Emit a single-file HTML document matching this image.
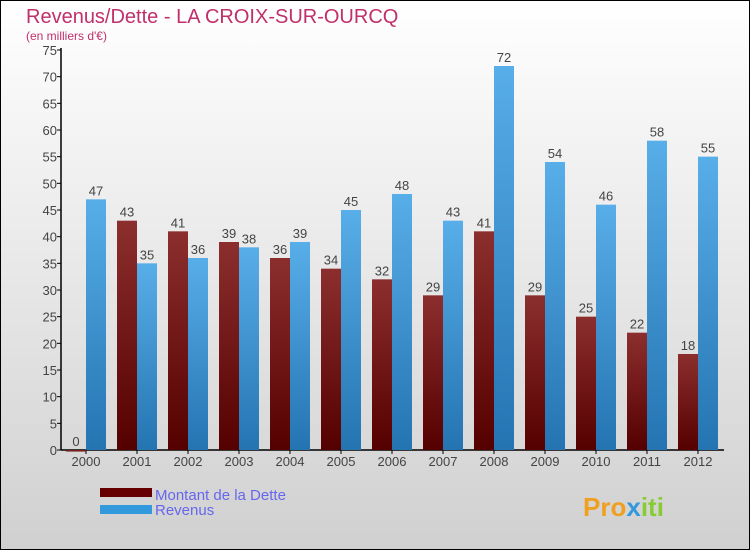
<!DOCTYPE html>
<html><head><meta charset="utf-8"><style>
body{margin:0}
#c{width:750px;height:550px;position:relative;overflow:hidden;font-family:"Liberation Sans",sans-serif}
</style></head><body>
<div id="c">
<svg id="s" width="750" height="550" xmlns="http://www.w3.org/2000/svg">
<defs>
<linearGradient id="bg" x1="0" y1="0" x2="0" y2="1"><stop offset="0" stop-color="#ffffff"/><stop offset="1" stop-color="#d0d0d0"/></linearGradient>
<linearGradient id="gd" x1="0" y1="0" x2="0" y2="1"><stop offset="0" stop-color="#8c2e2e"/><stop offset="1" stop-color="#550000"/></linearGradient>
<linearGradient id="gr" x1="0" y1="0" x2="0" y2="1"><stop offset="0" stop-color="#58aee8"/><stop offset="1" stop-color="#2474b2"/></linearGradient>
</defs>
<rect x="0.5" y="0.5" width="749" height="549" fill="url(#bg)" stroke="#000"/>
<text x="26" y="23" font-size="20" fill="#c0306a">Revenus/Dette - LA CROIX-SUR-OURCQ</text>
<text x="26" y="40" font-size="12" fill="#c0306a">(en milliers d'€)</text>
<g id="ax"></g><g id="bars"></g>
<rect x="100" y="488" width="52" height="9" fill="#660000"/>
<rect x="100" y="505" width="52" height="9" fill="#3399dd"/>
<text x="155" y="500" font-size="15" fill="#6666ee">Montant de la Dette</text>
<text x="155" y="515" font-size="15" fill="#6666ee">Revenus</text>
<text x="583" y="516" font-size="26" font-weight="bold" fill="#f0a020">Pro<tspan fill="#3399dd">x</tspan><tspan fill="#88cc33">iti</tspan></text>
</svg></div>
<script>
const years=["2000","2001","2002","2003","2004","2005","2006","2007","2008","2009","2010","2011","2012"];
const dette=[0,43,41,39,36,34,32,29,41,29,25,22,18];
const revenus=[47,35,36,38,39,45,48,43,72,54,46,58,55];
const yTicks=[0,5,10,15,20,25,30,35,40,45,50,55,60,65,70,75];
const NS="http://www.w3.org/2000/svg";
const x0=61,gw=51,y0=450,k=400/75;
const Y=v=>y0-v*k, GX=i=>x0+5+i*gw;
function el(t,a,p){const e=document.createElementNS(NS,t);for(const n in a)e.setAttribute(n,a[n]);p.appendChild(e);return e;}
const ax=document.getElementById('ax'),bars=document.getElementById('bars');
yTicks.forEach(v=>{
 const l=el('line',{x1:x0-4,x2:x0,y1:Y(v),y2:Y(v),stroke:'#000'},ax);
 
 
 const t=el('text',{x:x0-4,y:Y(v)+5,'font-size':13,fill:'#444','text-anchor':'end'},ax);t.textContent=v;
 
 
});
const ya=el('line',{x1:x0,x2:x0,y1:48,y2:y0,stroke:'#000','stroke-width':1.5},ax);


const xa=el('line',{x1:x0,x2:x0+13*gw,y1:y0,y2:y0,stroke:'#000','stroke-width':1.5},ax);


years.forEach((y,i)=>{
 const gx=GX(i);
 const tk=el('line',{x1:gx+20,x2:gx+20,y1:y0,y2:y0+4,stroke:'#000'},ax);
 
 
 const t=el('text',{x:gx+20,y:y0+16,'font-size':13,fill:'#444','text-anchor':'middle'},ax);t.textContent=y;
 
 
 const d=dette[i],r=revenus[i];
 const b1=el('rect',{x:gx,y:Y(d),width:20,height:Math.max(d*k,1.5),fill:'url(#gd)'},bars);
 
 
 const b2=el('rect',{x:gx+20,y:Y(r),width:20,height:r*k,fill:'url(#gr)'},bars);
 
 
 const t1=el('text',{x:gx+10,y:Y(d)-4,'font-size':13,fill:'#444','text-anchor':'middle'},bars);t1.textContent=d;
 
 
 const t2=el('text',{x:gx+30,y:Y(r)-4,'font-size':13,fill:'#444','text-anchor':'middle'},bars);t2.textContent=r;
 
 
});
</script>
</body></html>
